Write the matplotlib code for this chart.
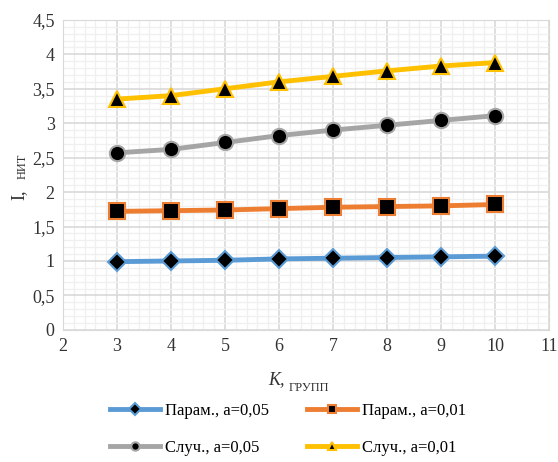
import matplotlib
matplotlib.use("Agg")
import matplotlib.pyplot as plt
from matplotlib.ticker import MultipleLocator, FuncFormatter

k = [3, 4, 5, 6, 7, 8, 9, 10]
param_005 = [0.99, 1.00, 1.01, 1.03, 1.04, 1.05, 1.06, 1.07]
param_001 = [1.72, 1.73, 1.74, 1.76, 1.78, 1.79, 1.80, 1.82]
sluch_005 = [2.57, 2.62, 2.72, 2.82, 2.90, 2.97, 3.04, 3.11]
sluch_001 = [3.35, 3.40, 3.50, 3.60, 3.68, 3.76, 3.83, 3.88]
labels = ["Парам., a=0,05", "Парам., a=0,01", "Случ., a=0,05", "Случ., a=0,01"]

plt.rcParams['font.family'] = ['serif']
plt.rcParams['font.serif'] = ['Liberation Serif', 'DejaVu Serif']

fig = plt.figure(figsize=(5.58, 4.62), dpi=100)
ax = fig.add_axes([0.113, 0.286, 0.871, 0.671])

series = [
    (param_005, '#5b9bd5', 'D', 9),
    (param_001, '#ed7d31', 's', 11),
    (sluch_005, '#a5a5a5', 'o', 11),
    (sluch_001, '#ffc000', '^', 11),
]
handles = []
for (vals, col, mk, ms), lab in zip(series, labels):
    h, = ax.plot(k, vals, color=col, lw=3.5, marker=mk, markersize=ms,
                 markerfacecolor='black', markeredgecolor=col, markeredgewidth=1.5,
                 label=lab, zorder=3)
    handles.append(h)

ax.set_xlim(2, 11)
ax.set_ylim(0, 4.5)
ax.xaxis.set_major_locator(MultipleLocator(1))
ax.xaxis.set_minor_locator(MultipleLocator(0.2))
ax.yaxis.set_major_locator(MultipleLocator(0.5))
ax.yaxis.set_minor_locator(MultipleLocator(0.1))
ax.yaxis.set_major_formatter(FuncFormatter(lambda v, p: ('%g' % v).replace('.', ',')))
ax.grid(which='major', color='#d9d9d9', lw=1.2, zorder=0)
ax.grid(which='minor', color='#f0f0f0', lw=1.0, zorder=0)
ax.set_axisbelow(True)
for s in ax.spines.values():
    s.set_color('#d9d9d9')
ax.tick_params(which='both', length=0, labelsize=13, colors='#333333', pad=6)

# axis labels with subscripts
fig.text(0.018, 0.567, "I,", rotation=90, fontsize=13, va='bottom', ha='left', color='#333333')
fig.text(0.030, 0.612, "НИТ", rotation=90, fontsize=9, va='bottom', ha='left', color='#333333')
fig.text(0.480, 0.168, "K,", fontsize=13, style='italic', ha='left', va='baseline', color='#333333')
fig.text(0.518, 0.153, "ГРУПП", fontsize=9, ha='left', va='baseline', color='#333333')

order = [0, 2, 1, 3]
leg = fig.legend(handles=[handles[i] for i in order], labels=[labels[i] for i in order],
                 loc='lower center', ncol=2,
                 bbox_to_anchor=(0.516, -0.02), frameon=False, fontsize=12,
                 handlelength=3.0, columnspacing=2.3, labelspacing=1.3,
                 handletextpad=0.3)
for h in leg.legend_handles:
    h.set_markersize(6)

fig.savefig("out.png", dpi=100)
